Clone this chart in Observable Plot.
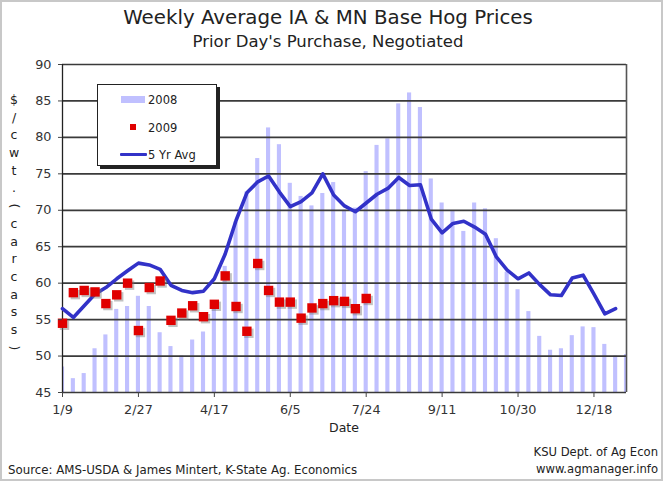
<!DOCTYPE html>
<html><head><meta charset="utf-8">
<script src="https://cdn.jsdelivr.net/npm/d3@7"></script>
<script src="https://cdn.jsdelivr.net/npm/@observablehq/plot@0.6"></script>
<style>
body{margin:0;background:#fff;font-family:"DejaVu Sans",sans-serif;color:#222;}
#wrap{position:relative;width:663px;height:481px;overflow:hidden;}
.abs{position:absolute;white-space:nowrap;}
#frame{position:absolute;left:0;top:0;width:663px;height:481px;box-sizing:border-box;border:2px solid #c8c8c8;pointer-events:none;}
#title{left:0;width:656px;top:5px;text-align:center;font-size:19.8px;line-height:25px;}
#subtitle{left:0;width:656px;top:30px;text-align:center;font-size:16.5px;line-height:23px;}
#ylab{left:6px;top:91px;width:16px;text-align:center;font-size:12.5px;}
#ylab div{height:17.7px;line-height:17.7px;}
#legend{left:97px;top:84px;width:120px;height:82px;box-sizing:border-box;border:1px solid #222;background:#fff;box-shadow:3px 3px 0 #222;}
.lt{position:absolute;font-size:11.5px;line-height:14px;left:50px;}
#date{left:300px;width:88px;top:420px;text-align:center;font-size:12.5px;line-height:16px;}
#src{left:8px;top:462px;font-size:11.8px;line-height:16px;}
#ksu{right:5px;top:444px;text-align:right;font-size:11.6px;line-height:17px;}
</style></head><body>
<div id="wrap"></div>
<script>
// weekly category labels (x axis)
const weeks = ["1/9","1/16","1/23","1/30","2/6","2/13","2/20","2/27","3/6","3/13","3/20","3/27","4/3","4/10","4/17","4/24","5/1","5/8","5/15","5/22","5/29","6/5","6/12","6/19","6/26","7/3","7/10","7/17","7/24","7/31","8/7","8/14","8/21","8/28","9/4","9/11","9/18","9/25","10/2","10/9","10/16","10/23","10/30","11/6","11/13","11/20","11/27","12/4","12/11","12/18","12/25","1/1","1/8"];
const xTickWeeks = ["1/9","2/27","4/17","6/5","7/24","9/11","10/30","12/18"];
const yTicks = [45,50,55,60,65,70,75,80,85,90];
// series values ($/cwt carcass)
const price2008 = [48.5,46.9,47.6,51.0,52.9,56.4,56.8,58.2,56.8,53.2,51.3,50.0,52.2,53.3,56.5,62.3,68.4,72.5,77.1,81.3,79.0,73.7,71.9,70.6,72.3,73.8,70.0,70.3,75.3,78.9,79.8,84.6,86.1,84.1,74.3,71.0,69.9,67.1,71.0,70.2,66.1,61.5,59.1,56.1,52.7,50.8,51.0,52.8,54.0,53.9,51.6,50.0,50.2];
const price2009 = [54.5,58.7,59.0,58.8,57.2,58.4,60.0,53.5,59.4,60.3,54.9,55.9,56.9,55.4,57.1,61.0,56.8,53.4,62.7,59.0,57.4,57.4,55.2,56.6,57.2,57.6,57.5,56.5,57.9];
const avg5yr = [56.5,55.3,56.9,58.5,59.4,60.6,61.7,62.75,62.5,61.9,59.7,59.0,58.7,58.9,60.6,64.0,68.6,72.4,73.9,74.7,72.5,70.5,71.2,72.4,75.0,72.1,70.6,69.8,71.0,72.2,73.0,74.5,73.4,73.5,68.8,66.9,68.2,68.5,67.7,66.7,63.6,61.8,60.6,61.4,59.8,58.4,58.3,60.7,61.1,58.5,55.8,56.5];
const yLabel = "$/cwt.(carcass)";

const bars = price2008.map((v,i)=>({i,v}));
const pts = price2009.map((v,i)=>({i,v}));
const avg = avg5yr.map((v,i)=>({i,v}));
const xTicks = xTickWeeks.map(w=>weeks.indexOf(w));

const chart = Plot.plot({
  width:663, height:481,
  marginLeft:62, marginRight:37, marginTop:64, marginBottom:89,
  x:{domain:[0,weeks.length-1]},
  y:{domain:[45,90]},
  style:{fontFamily:"DejaVu Sans", fontSize:"12.8px", color:"#333", background:"transparent"},
  marks:[
    Plot.rect(bars,{x1:d=>d.i-0.19, x2:d=>d.i+0.19, y1:45, y2:"v", fill:"#c0c0ff", clip:true}),
    Plot.ruleY(yTicks,{stroke:"#3a3a3a", strokeWidth:1.7}),
    Plot.ruleX([weeks.length-1],{stroke:"#555", strokeWidth:1.6}),
    Plot.ruleX([0],{stroke:"#222", strokeWidth:1.3}),
    Plot.line(avg,{x:"i", y:"v", stroke:"#3232c8", strokeWidth:3.6, strokeLinejoin:"round"}),
    Plot.dot(pts,{x:"i", y:"v", symbol:"square", r:5.3, fill:"#777", fillOpacity:0.45, dx:2, dy:2}),
    Plot.dot(pts,{x:"i", y:"v", symbol:"square", r:5.3, fill:"#e00000"}),
    Plot.axisY({ticks:yTicks, tickSize:4, tickPadding:7, label:null, stroke:"#444"}),
    Plot.axisX({ticks:xTicks, tickFormat:i=>weeks[i], tickSize:5, tickPadding:7, label:null, stroke:"#444"})
  ]
});
const wrap = document.getElementById("wrap");
chart.style.position="absolute"; chart.style.left="0"; chart.style.top="0";
wrap.appendChild(chart);

function add(id, cls, text){const d=document.createElement("div");d.id=id;d.className=cls;if(text!=null)d.textContent=text;wrap.appendChild(d);return d;}
add("title","abs","Weekly Average IA & MN Base Hog Prices");
add("subtitle","abs","Prior Day's Purchase, Negotiated");
const yl = add("ylab","abs");
for(const ch of yLabel){const c=document.createElement("div");c.textContent=ch;if(ch==="("||ch===")"){c.style.transform="rotate(90deg)";}yl.appendChild(c);}
add("date","abs","Date");
add("src","abs","Source: AMS-USDA & James Mintert, K-State Ag. Economics");
const k = add("ksu","abs"); k.innerHTML="KSU Dept. of Ag Econ<br>www.agmanager.info";

const lg = add("legend","abs");
lg.innerHTML = `
<div style="position:absolute;left:23px;top:11px;width:24px;height:7px;background:#c0c0ff"></div>
<div class="lt" style="top:8px">2008</div>
<div style="position:absolute;left:32px;top:39px;width:6px;height:6px;background:#e00000"></div>
<div class="lt" style="top:36px">2009</div>
<div style="position:absolute;left:22px;top:68px;width:27px;height:3px;background:#3232c8;border-radius:1px"></div>
<div class="lt" style="top:63px">5 Yr Avg</div>`;
add("frame","");
</script>
</body></html>
